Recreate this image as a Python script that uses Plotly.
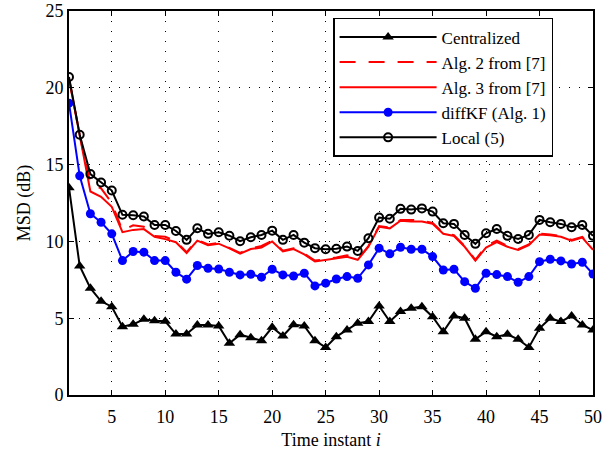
import plotly.graph_objects as go

t = list(range(1, 51))

centralized = [13.5, 8.4, 6.95, 6.1, 5.75, 4.45, 4.6, 4.93, 4.84, 4.8,
               3.97, 3.97, 4.56, 4.56, 4.5, 3.37, 3.93, 3.73, 3.54, 4.41,
               3.84, 4.58, 4.5, 3.54, 3.1, 3.8, 4.23, 4.67, 4.78, 5.8,
               4.78, 5.43, 5.65, 5.75, 5.1, 4.12, 5.15, 5.0, 3.63, 4.12,
               3.8, 3.95, 3.63, 3.1, 4.34, 5.0, 4.78, 5.15, 4.56, 4.23]

alg2 = [20.6, 16.9, 13.8, 13.45, 12.5, 10.7, 11.05, 10.95, 10.35, 10.3,
        10.0, 9.3, 10.1, 9.8, 9.9, 9.6, 9.25, 9.55, 9.7, 10.05,
        9.4, 9.55, 9.2, 8.75, 8.85, 8.95, 9.1, 8.85, 9.7, 11.0,
        10.9, 11.4, 11.4, 11.35, 11.2, 10.55, 10.4, 9.7, 8.8, 9.7,
        10.05, 9.7, 9.5, 9.8, 10.5, 10.45, 10.35, 10.1, 10.3, 9.5]

alg3 = [20.6, 16.8, 13.25, 12.9, 12.25, 10.6, 10.75, 10.8, 10.3, 10.15,
        9.95, 9.25, 10.05, 9.75, 9.85, 9.55, 9.2, 9.5, 9.6, 10.0,
        9.35, 9.5, 9.15, 8.7, 8.8, 8.9, 9.0, 8.8, 9.65, 10.95,
        10.85, 11.35, 11.3, 11.3, 11.15, 10.5, 10.35, 9.65, 8.75, 9.6,
        9.95, 9.65, 9.45, 9.75, 10.45, 10.4, 10.3, 10.05, 10.25, 9.45]

diffkf = [19.0, 14.27, 11.8, 11.25, 10.49, 8.75, 9.34, 9.3, 8.75, 8.75,
          7.99, 7.54, 8.43, 8.25, 8.2, 7.99, 7.82, 7.86, 7.67, 8.19,
          7.82, 7.75, 7.93, 7.1, 7.28, 7.55, 7.71, 7.6, 8.47, 9.56,
          9.19, 9.62, 9.49, 9.49, 9.01, 8.14, 8.19, 7.38, 6.95, 7.93,
          7.84, 7.71, 7.34, 7.71, 8.68, 8.84, 8.73, 8.53, 8.64, 7.88]

local = [20.7, 16.94, 14.38, 13.83, 13.31, 11.73, 11.7, 11.62, 11.07, 11.07,
         10.68, 10.1, 10.86, 10.49, 10.6, 10.37, 10.01, 10.27, 10.42, 10.7,
         10.1, 10.42, 9.92, 9.56, 9.49, 9.52, 9.66, 9.38, 10.21, 11.55,
         11.47, 12.12, 12.07, 12.15, 11.94, 11.18, 11.14, 10.42, 9.84, 10.53,
         10.81, 10.36, 10.16, 10.42, 11.4, 11.25, 11.14, 10.92, 11.07, 10.36]

x_ticks = [5, 10, 15, 20, 25, 30, 35, 40, 45, 50]
y_ticks = [0, 5, 10, 15, 20, 25]

fig = go.Figure()
fig.add_trace(go.Scatter(x=t, y=centralized, name="Centralized", mode="lines+markers",
                         line=dict(color="black", width=2),
                         marker=dict(symbol="triangle-up", size=10, color="black")))
fig.add_trace(go.Scatter(x=t, y=alg2, name="Alg. 2 from [7]", mode="lines",
                         line=dict(color="red", width=2, dash="16px,13px")))
fig.add_trace(go.Scatter(x=t, y=alg3, name="Alg. 3 from [7]", mode="lines",
                         line=dict(color="red", width=2)))
fig.add_trace(go.Scatter(x=t, y=diffkf, name="diffKF (Alg. 1)", mode="lines+markers",
                         line=dict(color="blue", width=2),
                         marker=dict(symbol="circle", size=9, color="blue")))
fig.add_trace(go.Scatter(x=t, y=local, name="Local (5)", mode="lines+markers",
                         line=dict(color="black", width=2),
                         marker=dict(symbol="circle-open", size=8, color="black",
                                     line=dict(width=2, color="black"))))

axis_common = dict(showline=True, linecolor="black", linewidth=2, mirror="ticks",
                   ticks="inside", ticklen=5, tickcolor="black", tickwidth=1,
                   showgrid=True, gridcolor="black", griddash="1px,9px", gridwidth=1,
                   zeroline=False, automargin=False,
                   tickfont=dict(size=18, color="black"))

fig.update_layout(
    width=616, height=450,
    margin=dict(l=69, r=23, t=11, b=55, autoexpand=False),
    plot_bgcolor="white", paper_bgcolor="white",
    font=dict(family="Liberation Serif, Times New Roman, serif", size=18, color="black"),
    xaxis=dict(range=[1, 50], tickvals=x_ticks, ticklabelstandoff=4,
               title=dict(text="Time instant <i>i</i>", standoff=8, font=dict(size=18)),
               **axis_common),
    yaxis=dict(range=[0, 25], tickvals=y_ticks,
               title=dict(text="MSD (dB)", standoff=10, font=dict(size=18)),
               **axis_common),
    legend=dict(x=0.504, y=0.982, xanchor="left", yanchor="top",
                bgcolor="white", bordercolor="black", borderwidth=1.5,
                font=dict(size=17), tracegroupgap=0, itemwidth=97,
                entrywidth=180, entrywidthmode="pixels"),
    showlegend=True,
)

fig.write_html("out.html", config={"displayModeBar": False},
               post_script="document.body.style.margin='0';")
